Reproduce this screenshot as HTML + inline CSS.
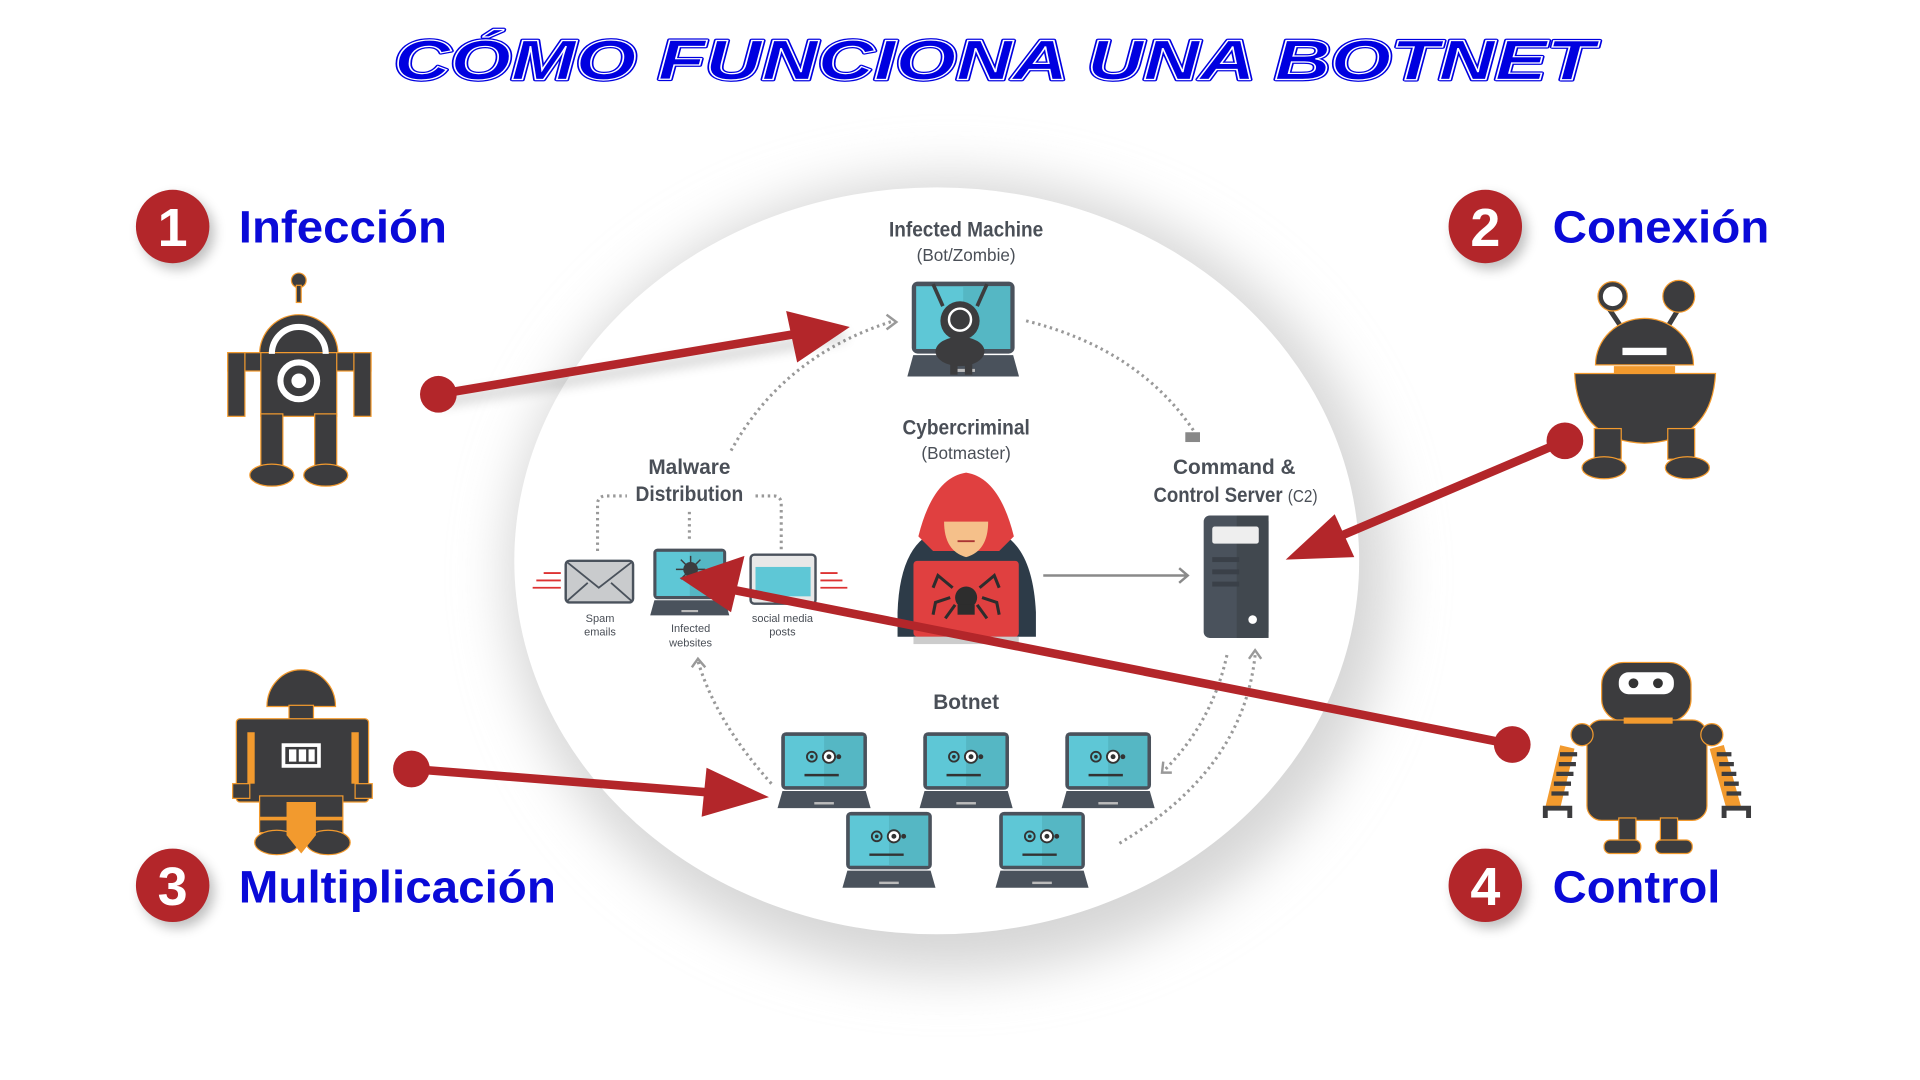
<!DOCTYPE html>
<html><head><meta charset="utf-8"><style>
html,body{margin:0;padding:0;background:#fff;width:1920px;height:1080px;overflow:hidden}
svg{display:block}
.lbl{font-family:"Liberation Sans",sans-serif;font-weight:bold;fill:#0a0ad8;font-size:37px}
.num{font-family:"Liberation Sans",sans-serif;font-weight:bold;fill:#fff;font-size:44px}
.d{font-family:"Liberation Sans",sans-serif;font-weight:bold;fill:#4a4f57}
.dn{font-family:"Liberation Sans",sans-serif;fill:#4a4f57}
</style></head><body>
<svg width="1920" height="1080" viewBox="0 0 1568 882" preserveAspectRatio="none" xmlns="http://www.w3.org/2000/svg">
<defs>
<filter id="sh" x="-30%" y="-30%" width="160%" height="160%"><feGaussianBlur stdDeviation="22"/></filter>
<filter id="s2" x="-50%" y="-50%" width="200%" height="200%"><feGaussianBlur stdDeviation="5"/></filter>
<g id="lap">
<rect x="3" y="0" width="70" height="47" rx="4" fill="#4a525c"/>
<rect x="6" y="3" width="64" height="41" fill="#5ec7d6"/>
<rect x="38" y="3" width="32" height="41" fill="#55b7c4"/>
<path d="M4 48 H72 L76 62 H0 Z" fill="#4a525c"/>
<rect x="30" y="57" width="16" height="2" fill="#bbb"/>
</g>
<g id="bot">
<use href="#lap"/>
<circle cx="28" cy="20" r="4" fill="none" stroke="#333" stroke-width="1.5"/><circle cx="28" cy="20" r="1.5" fill="#333"/>
<circle cx="42" cy="20" r="5" fill="#fff" stroke="#333" stroke-width="1.5"/><circle cx="42" cy="20" r="2" fill="#333"/>
<circle cx="50" cy="20" r="2" fill="#333"/>
<path d="M22 35 H50" stroke="#333" stroke-width="2"/>
</g>
</defs>
<rect width="1568" height="882" fill="#fff"/>
<!-- title -->
<text x="322" y="65" textLength="980" lengthAdjust="spacingAndGlyphs" font-family="Liberation Sans,sans-serif" font-weight="bold" font-style="italic" font-size="46" fill="#0000e0" stroke="#0000e0" stroke-width="3" stroke-linejoin="round">CÓMO FUNCIONA UNA BOTNET</text>
<text x="322" y="65" textLength="980" lengthAdjust="spacingAndGlyphs" font-family="Liberation Sans,sans-serif" font-weight="bold" font-style="italic" font-size="46" fill="#0000e0" stroke="#fff" stroke-width="1">CÓMO FUNCIONA UNA BOTNET</text>
<!-- ellipse -->
<ellipse cx="775" cy="470" rx="360" ry="325" fill="#d6d6d6" filter="url(#sh)"/>
<ellipse cx="765" cy="458" rx="345" ry="305" fill="#fff"/>
<!-- number circles -->
<g fill="#000" opacity="0.25" filter="url(#s2)"><circle cx="145" cy="190" r="30"/><circle cx="1217" cy="190" r="30"/><circle cx="145" cy="728" r="30"/><circle cx="1217" cy="728" r="30"/></g>
<circle cx="141" cy="185" r="30" fill="#b3262a"/><text class="num" x="141" y="201" text-anchor="middle">1</text>
<circle cx="1213" cy="185" r="30" fill="#b3262a"/><text class="num" x="1213" y="201" text-anchor="middle">2</text>
<circle cx="141" cy="723" r="30" fill="#b3262a"/><text class="num" x="141" y="739" text-anchor="middle">3</text>
<circle cx="1213" cy="723" r="30" fill="#b3262a"/><text class="num" x="1213" y="739" text-anchor="middle">4</text>
<text class="lbl" x="195" y="198" textLength="170" lengthAdjust="spacingAndGlyphs">Infección</text>
<text class="lbl" x="1268" y="198" textLength="177" lengthAdjust="spacingAndGlyphs">Conexión</text>
<text class="lbl" x="195" y="737" textLength="259" lengthAdjust="spacingAndGlyphs">Multiplicación</text>
<text class="lbl" x="1268" y="737" textLength="137" lengthAdjust="spacingAndGlyphs">Control</text>
<!-- robot 1 -->
<g fill="#3c3c3e" stroke="#f29a2e" stroke-width="1">
<circle cx="244" cy="229" r="6"/><rect x="242" y="233" width="4" height="14"/>
<path d="M212 289 A32 32 0 0 1 276 289 Z"/>
<rect x="186" y="288" width="117" height="15"/>
<rect x="186" y="288" width="14" height="52"/><rect x="289" y="288" width="14" height="52"/>
<rect x="213" y="288" width="62" height="52"/>
<rect x="213" y="338" width="18" height="45"/><rect x="257" y="338" width="18" height="45"/>
<ellipse cx="222" cy="388" rx="18" ry="9"/><ellipse cx="266" cy="388" rx="18" ry="9"/>
</g>
<path d="M222 289 A22 22 0 0 1 266 289" fill="none" stroke="#fff" stroke-width="5"/>
<circle cx="244" cy="311" r="15" fill="none" stroke="#fff" stroke-width="5"/>
<circle cx="244" cy="311" r="6" fill="#fff"/>
<!-- robot 2 -->
<g fill="#3c3c3e" stroke="#f29a2e" stroke-width="1">
<path d="M1314 252 L1326 270 M1371 252 L1360 270" stroke="#3c3c3e" stroke-width="4"/>
<circle cx="1317" cy="242" r="12"/><circle cx="1371" cy="242" r="13"/>
<path d="M1303 298 A40 38 0 0 1 1383 298 Z"/>
<path d="M1286 305 H1401 Q1398 360 1343 362 Q1288 360 1286 305Z"/>
<rect x="1302" y="350" width="22" height="25"/><rect x="1362" y="350" width="22" height="25"/>
<ellipse cx="1310" cy="382" rx="18" ry="9"/><ellipse cx="1378" cy="382" rx="18" ry="9"/>
</g>
<circle cx="1317" cy="242" r="8" fill="#fff"/>
<rect x="1325" y="284" width="36" height="6" fill="#fff"/>
<rect x="1318" y="299" width="50" height="6" fill="#f29a2e"/>
<!-- robot 3 -->
<g fill="#3c3c3e" stroke="#f29a2e" stroke-width="1">
<path d="M218 577 A28 30 0 0 1 274 577 Z"/>
<rect x="236" y="576" width="20" height="12"/>
<rect x="193" y="587" width="108" height="68" rx="3"/>
<rect x="190" y="640" width="14" height="12"/><rect x="290" y="640" width="14" height="12"/>
<rect x="212" y="650" width="68" height="30"/>
<ellipse cx="226" cy="688" rx="18" ry="10"/><ellipse cx="268" cy="688" rx="18" ry="10"/>
</g>
<rect x="202" y="598" width="6" height="42" fill="#f29a2e"/><rect x="287" y="598" width="6" height="42" fill="#f29a2e"/>
<path d="M234 655 H258 V682 L246 697 L234 682Z" fill="#f29a2e"/>
<rect x="212" y="667" width="68" height="3" fill="#f29a2e"/>
<rect x="230" y="607" width="32" height="20" fill="#fff"/><rect x="233" y="610" width="26" height="14" fill="#3c3c3e"/>
<rect x="236" y="612" width="6" height="10" fill="#fff"/><rect x="244" y="612" width="6" height="10" fill="#fff"/><rect x="252" y="612" width="5" height="10" fill="#fff"/>
<!-- robot 4 -->
<g fill="#3c3c3e" stroke="#f29a2e" stroke-width="1">
<rect x="1308" y="541" width="73" height="48" rx="18"/>
<rect x="1296" y="588" width="98" height="82" rx="12"/>
<circle cx="1292" cy="600" r="9"/><circle cx="1398" cy="600" r="9"/>
<rect x="1322" y="668" width="14" height="22"/><rect x="1356" y="668" width="14" height="22"/>
<rect x="1310" y="686" width="30" height="11" rx="5"/><rect x="1352" y="686" width="30" height="11" rx="5"/>
</g>
<rect x="1322" y="549" width="45" height="18" rx="8" fill="#fff"/>
<circle cx="1334" cy="558" r="4" fill="#333"/><circle cx="1354" cy="558" r="4" fill="#333"/>
<rect x="1326" y="586" width="40" height="5" fill="#f29a2e"/>
<g stroke="#3c3c3e" stroke-width="3.5">
<path d="M1280 610 L1268 660" stroke="#f29a2e" stroke-width="12"/>
<path d="M1402 610 L1416 660" stroke="#f29a2e" stroke-width="12"/>
<path d="M1274 616h14M1273 624h14M1271 632h14M1269 640h14M1267 648h14M1402 616h12M1404 624h12M1406 632h12M1408 640h12M1410 648h12"/>
</g>
<path d="M1262 668 V660 H1282 V668 M1408 668 V660 H1428 V668" fill="none" stroke="#3c3c3e" stroke-width="4"/>
<!-- inner diagram labels -->
<text class="d" x="789" y="193" text-anchor="middle" font-size="17" textLength="126" lengthAdjust="spacingAndGlyphs">Infected Machine</text>
<text class="dn" x="789" y="213" text-anchor="middle" font-size="14">(Bot/Zombie)</text>
<text class="d" x="789" y="355" text-anchor="middle" font-size="17" textLength="104" lengthAdjust="spacingAndGlyphs">Cybercriminal</text>
<text class="dn" x="789" y="375" text-anchor="middle" font-size="14">(Botmaster)</text>
<text class="d" x="563" y="387" text-anchor="middle" font-size="17">Malware</text>
<text class="d" x="563" y="409" text-anchor="middle" font-size="17" textLength="88" lengthAdjust="spacingAndGlyphs">Distribution</text>
<text class="d" x="1008" y="387" text-anchor="middle" font-size="17">Command &amp;</text>
<text class="d" x="942" y="410" font-size="17" textLength="134" lengthAdjust="spacingAndGlyphs">Control Server <tspan font-weight="normal" font-size="14">(C2)</tspan></text>
<text class="d" x="789" y="579" text-anchor="middle" font-size="17">Botnet</text>
<text class="dn" x="490" y="508" text-anchor="middle" font-size="9">Spam</text><text class="dn" x="490" y="519" text-anchor="middle" font-size="9">emails</text>
<text class="dn" x="564" y="516" text-anchor="middle" font-size="9">Infected</text><text class="dn" x="564" y="528" text-anchor="middle" font-size="9">websites</text>
<text class="dn" x="639" y="508" text-anchor="middle" font-size="9">social media</text><text class="dn" x="639" y="519" text-anchor="middle" font-size="9">posts</text>
<!-- dotted connectors -->
<g fill="none" stroke="#999" stroke-width="2.5" stroke-dasharray="2 3">
<path d="M597 368 Q640 290 730 262"/>
<path d="M838 262 Q930 285 975 352"/>
<path d="M488 450 V412 Q488 405 495 405 H512 M563 418 V440 M617 405 H632 Q638 405 638 412 V450"/>
<path d="M630 640 Q585 590 570 540"/>
<path d="M1002 535 Q990 590 950 630"/>
<path d="M1025 535 Q1015 630 912 690"/>
</g>
<path d="M724 257 L732 263 L724 269 M565 545 L570 538 L576 545 M950 622 L949 631 L957 631 M1020 538 L1025 531 L1030 538" fill="none" stroke="#999" stroke-width="2"/>
<path d="M968 353 h12 v8 h-12z" fill="#888"/>
<!-- infected machine laptop -->
<g transform="translate(741,230) scale(1.2,1.25)"><use href="#lap"/></g>
<circle cx="784" cy="262" r="16" fill="#3c3c3e"/><circle cx="784" cy="261" r="9" fill="none" stroke="#fff" stroke-width="2"/>
<ellipse cx="784" cy="287" rx="20" ry="12" fill="#3c3c3e"/>
<path d="M770 250 L762 232 M798 250 L806 232" stroke="#3c3c3e" stroke-width="3"/>
<rect x="776" y="294" width="6" height="12" fill="#3c3c3e"/><rect x="788" y="294" width="6" height="12" fill="#3c3c3e"/>
<!-- hacker -->
<path d="M733 500 Q735 440 770 432 H808 Q843 440 846 500 V520 H733Z" fill="#2d3b48"/>
<path d="M789 386 Q762 390 750 438 L762 450 H816 L828 438 Q816 390 789 386Z" fill="#e04040"/>
<path d="M771 426 H807 Q807 450 789 455 Q771 450 771 426Z" fill="#f5c08a"/>
<path d="M782 442 H796" stroke="#a33" stroke-width="1.5"/>
<rect x="746" y="458" width="86" height="62" rx="3" fill="#e04040"/>
<rect x="746" y="520" width="86" height="6" fill="#ccc"/>
<g stroke="#2d2d2d" stroke-width="2.5" fill="none"><path d="M778 480 L766 470 L762 480 M800 480 L812 470 L816 480 M776 488 L764 492 L762 502 M802 488 L814 492 L816 502 M780 494 L772 505 M798 494 L806 505"/></g>
<circle cx="789" cy="488" r="9" fill="#2d2d2d"/><rect x="782" y="494" width="14" height="8" fill="#2d2d2d"/>
<path d="M852 470 H970 M963 464 L970 470 L963 476" fill="none" stroke="#8a8a8a" stroke-width="2"/>
<!-- server -->
<rect x="983" y="421" width="53" height="100" rx="5" fill="#4a525c"/>
<rect x="1010" y="421" width="26" height="100" fill="#41484f"/>
<rect x="990" y="430" width="38" height="14" rx="2" fill="#eee"/>
<rect x="990" y="455" width="22" height="4" fill="#3a4048"/><rect x="990" y="465" width="22" height="4" fill="#3a4048"/><rect x="990" y="475" width="22" height="4" fill="#3a4048"/>
<circle cx="1023" cy="506" r="3.5" fill="#fff"/>
<!-- malware icons -->
<rect x="462" y="458" width="55" height="34" rx="3" fill="#c9cbcd" stroke="#4a525c" stroke-width="2"/>
<path d="M463 459 L489 480 L516 459 M463 491 L480 476 M516 491 L499 476" stroke="#4a525c" stroke-width="1.5" fill="none"/>
<g stroke="#d33" stroke-width="1.5"><path d="M444 468h14M438 474h20M435 480h23M670 468h14M670 474h18M670 480h22"/></g>
<g transform="translate(531,448) scale(0.85,0.88)"><use href="#lap"/></g>
<circle cx="564" cy="465" r="6" fill="#3c3c3e"/>
<g stroke="#3c3c3e" stroke-width="1.2"><path d="M556 457l16 16M572 457l-16 16M564 454v22M552 465h24"/></g>
<rect x="613" y="453" width="53" height="40" rx="3" fill="#e8e8e8" stroke="#4a525c" stroke-width="2"/>
<rect x="617" y="463" width="45" height="24" fill="#5ec7d6"/>
<!-- botnet -->
<use href="#bot" x="635" y="598"/><use href="#bot" x="751" y="598"/><use href="#bot" x="867" y="598"/>
<use href="#bot" x="688" y="663"/><use href="#bot" x="813" y="663"/>
<!-- red arrows -->
<g fill="#000" opacity="0.18" filter="url(#s2)">
<path d="M360 328 L690 274" stroke="#000" stroke-width="8"/>
</g>
<g stroke="#b3262a" stroke-width="7" fill="#b3262a">
<line x1="358" y1="322" x2="660" y2="271"/>
<line x1="1278" y1="360" x2="1080" y2="444"/>
<line x1="336" y1="628" x2="590" y2="648"/>
<line x1="1235" y1="608" x2="590" y2="480"/>
</g>
<g fill="#b3262a">
<circle cx="358" cy="322" r="15"/><circle cx="1278" cy="360" r="15"/><circle cx="336" cy="628" r="15"/><circle cx="1235" cy="608" r="15"/>
<path d="M694 267 L642 254 L651 296Z"/>
<path d="M1050 457 L1090 420 L1106 455Z"/>
<path d="M628 651 L577 627 L573 667Z"/>
<path d="M555 472 L608 454 L597 500Z"/>
</g>
</svg>
</body></html>
